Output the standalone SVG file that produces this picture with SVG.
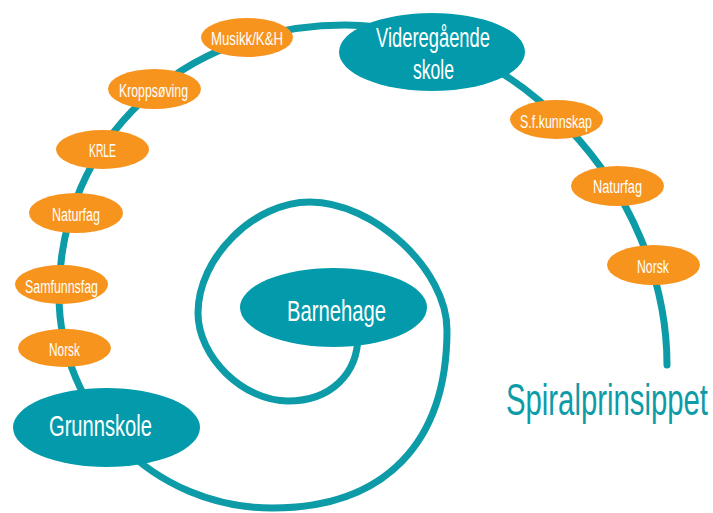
<svg xmlns="http://www.w3.org/2000/svg" width="713" height="513" viewBox="0 0 713 513">
<style>
.spiral{fill:none;stroke:#0E9BA8;stroke-width:7;stroke-linecap:round;stroke-linejoin:round}
.main{fill:#039BAB}
.sub{fill:#F7941E}
.t{font-family:"Liberation Sans",Arial,sans-serif;fill:#FFFFFF;text-anchor:middle}
.ts{font-size:18px}
.tm{font-size:29px}
.title{font-family:"Liberation Sans",Arial,sans-serif;fill:#0E9BA8;font-size:44px}
</style>
<rect width="713" height="513" fill="#FFFFFF"/>
<g id="connectors">
<path class="spiral" d="M358,335 C358,374.6 330,401 288,401 C243,401 198,357 198,313 C198,257.5 254,202 310,202 C373.9,202 447,269.8 447,330 C447,443.9 384,508 272,508 C154.4,508 59,412.6 59,295 C59,141.1 182,25 345,25 C512.4,25 667,188.2 667,365"/>
</g>
<g id="barnehage">
<ellipse class="main" cx="333.5" cy="307.5" rx="93.5" ry="39.5"/>
<text class="t" x="336.5" y="320.5" font-size="30" textLength="99" lengthAdjust="spacingAndGlyphs">Barnehage</text>
</g>
<g id="grunnskole">
<ellipse class="main" cx="106.5" cy="427.5" rx="93.5" ry="39.5"/>
<text class="t tm" x="100.5" y="436" textLength="103" lengthAdjust="spacingAndGlyphs">Grunnskole</text>
</g>
<g id="norsk-1">
<ellipse class="sub" cx="64.5" cy="348" rx="46.5" ry="19"/>
<text class="t ts" x="64.5" y="355.5" textLength="31" lengthAdjust="spacingAndGlyphs">Norsk</text>
</g>
<g id="samfunnsfag">
<ellipse class="sub" cx="61.5" cy="284.5" rx="46.5" ry="19.5"/>
<text class="t ts" x="61.5" y="293" textLength="73" lengthAdjust="spacingAndGlyphs">Samfunnsfag</text>
</g>
<g id="naturfag-1">
<ellipse class="sub" cx="76" cy="213" rx="47" ry="20"/>
<text class="t ts" x="76" y="220.5" textLength="48" lengthAdjust="spacingAndGlyphs">Naturfag</text>
</g>
<g id="krle">
<ellipse class="sub" cx="102.5" cy="149.5" rx="46.5" ry="19.5"/>
<text class="t ts" x="102.5" y="157" textLength="27" lengthAdjust="spacingAndGlyphs">KRLE</text>
</g>
<g id="kroppsoving">
<ellipse class="sub" cx="154.5" cy="89" rx="46.5" ry="20"/>
<text class="t ts" x="153.5" y="97" textLength="69" lengthAdjust="spacingAndGlyphs">Kroppsøving</text>
</g>
<g id="musikk">
<ellipse class="sub" cx="247" cy="37.5" rx="46" ry="19.5"/>
<text class="t ts" x="247" y="45" textLength="72" lengthAdjust="spacingAndGlyphs">Musikk/K&amp;H</text>
</g>
<g id="videregaende">
<ellipse class="main" cx="432" cy="52" rx="93" ry="39"/>
<text class="t" x="433" y="47" font-size="27" textLength="114" lengthAdjust="spacingAndGlyphs">Videregående</text>
<text class="t" x="433.5" y="79" font-size="27" textLength="41" lengthAdjust="spacingAndGlyphs">skole</text>
</g>
<g id="sfkunnskap">
<ellipse class="sub" cx="556.5" cy="119.5" rx="46.5" ry="19.5"/>
<text class="t ts" x="556" y="128" textLength="72" lengthAdjust="spacingAndGlyphs">S.f.kunnskap</text>
</g>
<g id="naturfag-2">
<ellipse class="sub" cx="617.5" cy="186" rx="46.5" ry="20"/>
<text class="t ts" x="617.5" y="193" textLength="49" lengthAdjust="spacingAndGlyphs">Naturfag</text>
</g>
<g id="norsk-2">
<ellipse class="sub" cx="653.5" cy="265" rx="46.5" ry="20"/>
<text class="t ts" x="653" y="272.5" textLength="32" lengthAdjust="spacingAndGlyphs">Norsk</text>
</g>
<text class="title" x="0" y="0" transform="translate(506 415) scale(0.666 1)">Spiralprinsippet</text>
</svg>
